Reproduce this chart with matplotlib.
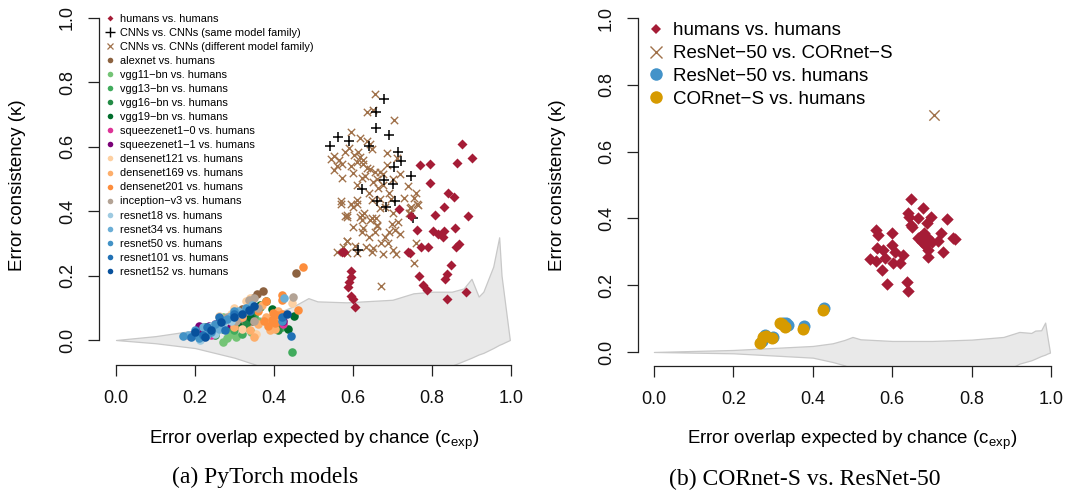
import matplotlib.pyplot as plt
from matplotlib.lines import Line2D
import numpy as np

plt.rcParams['font.family'] = ['Liberation Sans', 'DejaVu Sans']
plt.rcParams['mathtext.fontset'] = 'custom'
plt.rcParams['mathtext.rm'] = 'Liberation Sans'

ticks = [0.0, 0.2, 0.4, 0.6, 0.8, 1.0]

# ---- panel (a): PyTorch models ----
humans_a_x = [0.875, 0.902, 0.769, 0.795, 0.863, 0.795, 0.841, 0.856, 0.831, 0.807, 0.890,
              0.716, 0.748, 0.763, 0.803, 0.816, 0.827, 0.831, 0.857, 0.868, 0.861, 0.773,
              0.791, 0.744, 0.847, 0.768, 0.837, 0.832, 0.776, 0.787, 0.837, 0.885, 0.571,
              0.577, 0.595, 0.594, 0.590, 0.588, 0.596, 0.599, 0.605, 0.740]
humans_a_y = [0.609, 0.565, 0.544, 0.548, 0.549, 0.488, 0.456, 0.443, 0.412, 0.388, 0.386,
              0.407, 0.384, 0.343, 0.340, 0.328, 0.321, 0.340, 0.347, 0.297, 0.288, 0.290,
              0.290, 0.271, 0.234, 0.199, 0.205, 0.189, 0.171, 0.154, 0.128, 0.149, 0.274,
              0.272, 0.215, 0.197, 0.181, 0.164, 0.136, 0.128, 0.102, 0.272]

same_family = [(0.678, 0.748), (0.659, 0.707), (0.657, 0.657), (0.692, 0.637), (0.563, 0.630),
               (0.591, 0.619), (0.543, 0.604), (0.641, 0.601), (0.715, 0.584), (0.721, 0.557),
               (0.704, 0.538), (0.747, 0.510), (0.679, 0.496), (0.700, 0.484), (0.624, 0.468),
               (0.661, 0.433), (0.706, 0.431), (0.684, 0.412), (0.751, 0.378), (0.612, 0.278)]

diff_family = [(0.656, 0.764), (0.636, 0.709), (0.651, 0.714), (0.705, 0.683), (0.594, 0.646),
               (0.618, 0.627), (0.636, 0.618), (0.647, 0.592), (0.643, 0.609), (0.580, 0.585),
               (0.553, 0.570), (0.565, 0.559), (0.572, 0.547), (0.603, 0.575), (0.618, 0.569),
               (0.609, 0.552), (0.626, 0.546), (0.635, 0.533), (0.687, 0.580), (0.711, 0.564),
               (0.551, 0.527), (0.572, 0.504), (0.599, 0.518), (0.622, 0.502), (0.643, 0.530),
               (0.656, 0.523), (0.668, 0.523), (0.685, 0.545), (0.677, 0.516), (0.720, 0.514),
               (0.738, 0.478), (0.651, 0.490), (0.664, 0.471), (0.691, 0.456), (0.696, 0.437),
               (0.759, 0.456), (0.755, 0.440), (0.763, 0.421), (0.570, 0.432), (0.594, 0.422),
               (0.609, 0.435), (0.649, 0.434), (0.668, 0.437), (0.682, 0.412), (0.744, 0.409),
               (0.580, 0.386), (0.586, 0.381), (0.618, 0.381), (0.628, 0.393), (0.623, 0.373),
               (0.657, 0.378), (0.643, 0.373), (0.699, 0.360), (0.715, 0.368), (0.626, 0.347),
               (0.623, 0.336), (0.661, 0.353), (0.656, 0.334), (0.691, 0.336), (0.706, 0.342),
               (0.682, 0.319), (0.688, 0.300), (0.585, 0.309), (0.604, 0.292), (0.633, 0.288),
               (0.650, 0.285), (0.560, 0.274), (0.586, 0.271), (0.648, 0.274), (0.677, 0.267),
               (0.710, 0.267), (0.759, 0.300), (0.743, 0.393), (0.755, 0.238), (0.671, 0.169),
               (0.569, 0.422), (0.601, 0.414), (0.611, 0.422), (0.584, 0.388), (0.622, 0.388),
               (0.647, 0.378), (0.662, 0.357), (0.586, 0.306), (0.747, 0.414), (0.765, 0.419),
               (0.744, 0.393), (0.545, 0.563), (0.591, 0.596), (0.612, 0.585), (0.625, 0.560),
               (0.560, 0.540), (0.595, 0.540), (0.630, 0.510), (0.660, 0.500), (0.675, 0.480),
               (0.700, 0.500), (0.610, 0.480), (0.640, 0.455), (0.700, 0.395), (0.730, 0.440),
               (0.668, 0.410), (0.600, 0.350), (0.640, 0.320), (0.670, 0.300), (0.720, 0.330),
               (0.575, 0.290), (0.700, 0.280), (0.610, 0.270)]

alexnet = [(0.455, 0.209), (0.371, 0.153), (0.358, 0.142), (0.347, 0.130), (0.337, 0.119),
           (0.320, 0.095), (0.300, 0.075), (0.345, 0.060), (0.280, 0.060), (0.310, 0.050),
           (0.260, 0.045), (0.335, 0.085)]
vgg11 = [(0.272, -0.005), (0.280, 0.005), (0.305, 0.010), (0.343, 0.026), (0.272, 0.070),
         (0.250, 0.030), (0.230, 0.020), (0.330, 0.040), (0.360, 0.060), (0.290, 0.020),
         (0.215, 0.010), (0.310, 0.065)]
vgg13 = [(0.445, -0.036), (0.300, 0.030), (0.320, 0.020), (0.260, 0.040), (0.350, 0.075),
         (0.240, 0.025), (0.420, 0.040), (0.285, 0.045), (0.205, 0.015), (0.330, 0.060)]
vgg16 = [(0.365, 0.103), (0.300, 0.060), (0.270, 0.035), (0.330, 0.050), (0.250, 0.015),
         (0.410, 0.030), (0.345, 0.080), (0.225, 0.040), (0.380, 0.120)]
vgg19 = [(0.451, 0.075), (0.365, 0.110), (0.436, 0.034), (0.340, 0.070), (0.310, 0.045),
         (0.280, 0.050), (0.230, 0.030), (0.395, 0.095)]
squeeze10 = [(0.422, 0.049), (0.187, 0.012), (0.204, 0.021), (0.225, 0.030), (0.250, 0.050),
             (0.270, 0.040), (0.300, 0.055), (0.215, 0.005), (0.240, 0.015), (0.320, 0.070)]
squeeze11 = [(0.422, 0.060), (0.193, 0.016), (0.210, 0.028), (0.232, 0.035), (0.260, 0.055),
             (0.290, 0.050), (0.235, 0.045), (0.300, 0.070), (0.210, 0.045)]
dense121 = [(0.445, 0.114), (0.340, 0.130), (0.330, 0.120), (0.300, 0.100), (0.275, 0.060),
            (0.260, 0.075), (0.380, 0.060), (0.320, 0.035), (0.355, 0.020), (0.290, 0.080)]
dense169 = [(0.390, 0.031), (0.403, 0.033), (0.370, 0.110), (0.380, 0.070), (0.340, 0.030),
            (0.360, 0.050), (0.410, 0.090), (0.300, 0.040), (0.350, 0.010), (0.320, 0.070),
            (0.395, 0.040)]
dense201 = [(0.474, 0.228), (0.419, 0.140), (0.421, 0.124), (0.380, 0.122), (0.398, 0.083),
            (0.407, 0.078), (0.394, 0.062), (0.403, 0.054), (0.462, 0.093), (0.375, 0.060),
            (0.385, 0.045), (0.420, 0.080), (0.360, 0.090)]
inception = [(0.449, 0.135), (0.337, 0.125), (0.350, 0.130), (0.310, 0.080), (0.305, 0.060),
             (0.360, 0.100), (0.330, 0.090), (0.280, 0.070), (0.350, 0.060)]
resnet18 = [(0.213, 0.000), (0.230, 0.030), (0.250, 0.020), (0.290, 0.060), (0.310, 0.085),
            (0.330, 0.100), (0.200, 0.020), (0.270, 0.050), (0.240, 0.045)]
resnet34 = [(0.182, 0.015), (0.220, 0.040), (0.260, 0.035), (0.290, 0.075), (0.310, 0.090),
            (0.345, 0.110), (0.230, 0.015), (0.270, 0.060), (0.425, 0.129)]
resnet50 = [(0.169, 0.012), (0.200, 0.030), (0.240, 0.025), (0.280, 0.065), (0.300, 0.090),
            (0.420, 0.060), (0.250, 0.050), (0.330, 0.100), (0.210, 0.005)]
resnet101 = [(0.421, 0.070), (0.442, 0.013), (0.190, 0.010), (0.230, 0.040), (0.260, 0.070),
             (0.300, 0.080), (0.340, 0.090), (0.275, 0.030), (0.220, 0.015)]
resnet152 = [(0.434, 0.081), (0.337, 0.093), (0.200, 0.025), (0.240, 0.030), (0.265, 0.055),
             (0.300, 0.070), (0.320, 0.080), (0.350, 0.105), (0.225, 0.010)]

model_names = ['alexnet', 'vgg11\u2212bn', 'vgg13\u2212bn', 'vgg16\u2212bn', 'vgg19\u2212bn',
               'squeezenet1\u22120', 'squeezenet1\u22121', 'densenet121', 'densenet169',
               'densenet201', 'inception\u2212v3', 'resnet18', 'resnet34', 'resnet50',
               'resnet101', 'resnet152']
model_points = [alexnet, vgg11, vgg13, vgg16, vgg19, squeeze10, squeeze11, dense121, dense169,
                dense201, inception, resnet18, resnet34, resnet50, resnet101, resnet152]
model_colors = ['#8C6240', '#74C476', '#41AB5D', '#238B45', '#006D2C', '#DD3497', '#7A0177',
                '#FDD0A2', '#FDAE6B', '#FD8D3C', '#B3A395', '#9ECAE1', '#6BAED6', '#4292C6',
                '#2171B5', '#08519C']

# chance band (grey area)
band_a_x = [0.0, 0.1, 0.2, 0.3, 0.35, 0.4, 0.45, 0.487, 0.51, 0.584, 0.7, 0.753, 0.8, 0.85,
            0.88, 0.90, 0.918, 0.93, 0.955, 0.970, 0.976, 0.997]
band_a_up = [0.0, 0.012, 0.03, 0.05, 0.065, 0.08, 0.105, 0.13, 0.12, 0.117, 0.125, 0.145,
             0.15, 0.15, 0.16, 0.19, 0.135, 0.15, 0.228, 0.319, 0.2, 0.0]
band_a_lo = [0.0, -0.01, -0.025, -0.055, -0.075, -0.1, -0.12, -0.13, -0.14, -0.14, -0.13,
             -0.12, -0.1, -0.08, -0.065, -0.055, -0.045, -0.04, -0.025, -0.015, -0.012, 0.0]

# ---- panel (b): CORnet-S vs. ResNet-50 ----
humans_b = [(0.647, 0.458), (0.678, 0.430), (0.639, 0.415), (0.643, 0.405), (0.666, 0.400),
            (0.697, 0.403), (0.739, 0.398), (0.647, 0.380), (0.649, 0.375), (0.687, 0.385),
            (0.559, 0.365), (0.565, 0.350), (0.600, 0.357), (0.723, 0.357), (0.666, 0.340),
            (0.678, 0.350), (0.687, 0.343), (0.674, 0.330), (0.699, 0.330), (0.716, 0.333),
            (0.752, 0.340), (0.758, 0.337), (0.683, 0.320), (0.691, 0.305), (0.561, 0.310),
            (0.576, 0.305), (0.600, 0.320), (0.607, 0.300), (0.628, 0.290), (0.729, 0.298),
            (0.691, 0.285), (0.544, 0.277), (0.559, 0.272), (0.582, 0.280), (0.601, 0.265),
            (0.620, 0.265), (0.574, 0.246), (0.586, 0.203), (0.637, 0.210), (0.639, 0.184),
            (0.670, 0.345), (0.681, 0.355)]
resnet_cornet = [(0.706, 0.710)]
resnet_humans = [(0.271, 0.034), (0.280, 0.050), (0.300, 0.046), (0.332, 0.086), (0.337, 0.082),
                 (0.378, 0.078), (0.427, 0.131), (0.325, 0.088)]
cornet_humans = [(0.267, 0.026), (0.275, 0.046), (0.283, 0.048), (0.298, 0.041), (0.317, 0.086),
                 (0.330, 0.076), (0.376, 0.068), (0.425, 0.126), (0.322, 0.083)]

band_b_x = [0.0, 0.2, 0.4, 0.45, 0.48, 0.5, 0.52, 0.6, 0.7, 0.8, 0.88, 0.92, 0.95, 0.96,
            0.975, 0.985, 0.99, 0.997]
band_b_up = [0.0, 0.006, 0.018, 0.026, 0.036, 0.045, 0.038, 0.033, 0.033, 0.037, 0.045, 0.06,
             0.057, 0.064, 0.065, 0.088, 0.05, 0.0]
band_b_lo = [0.0, -0.004, -0.017, -0.03, -0.04, -0.05, -0.06, -0.07, -0.07, -0.07, -0.06,
             -0.035, -0.025, -0.02, -0.012, -0.008, -0.005, -0.002]

human_col = '#A51C36'
brown_col = '#A0714A'
band_fill = '#E9E9E9'
band_edge = '#C8C8C8'


def xs(pts):
    return [p[0] for p in pts]


def ys(pts):
    return [p[1] for p in pts]


def style(ax):
    for s in ['top', 'right']:
        ax.spines[s].set_visible(False)
    ax.spines['left'].set_bounds(0, 1)
    ax.spines['bottom'].set_bounds(0, 1)
    for s in ['left', 'bottom']:
        ax.spines[s].set_linewidth(0.9)
        ax.spines[s].set_color('#222222')
    ax.set_xticks(ticks)
    ax.set_yticks(ticks)
    ax.set_xticklabels(['%.1f' % t for t in ticks])
    ax.set_yticklabels(['%.1f' % t for t in ticks])
    ax.tick_params(direction='out', length=8, width=0.9, labelsize=13,
                   color='#222222', labelcolor='#111111')
    ax.tick_params(axis='x', pad=10)
    ax.tick_params(axis='y', pad=8.6, labelrotation=90)
    for lab in ax.get_yticklabels():
        lab.set_va('center')
    ax.patch.set_visible(False)


fig = plt.figure(figsize=(10.68, 4.91), dpi=100)

# panel (a)
ax1 = fig.add_axes([99 / 1068, 1 - 365 / 491, 429 / 1068, 357 / 491])
ax1.set_xlim(-0.043, 1.043)
ax1.set_ylim(-0.0776, 1.031)
ax1.fill_between(band_a_x, band_a_lo, band_a_up, facecolor=band_fill, edgecolor=band_edge,
                 linewidth=0.9, zorder=1)
ax1.scatter(xs(diff_family), ys(diff_family), marker='x', s=28, linewidths=1.0,
            color=brown_col, zorder=2)
ax1.scatter(xs(same_family), ys(same_family), marker='+', s=60, linewidths=1.1,
            color='black', zorder=3)
ax1.scatter(humans_a_x, humans_a_y, marker='D', s=26, color=human_col, linewidths=0, zorder=4)
for pts, col in zip(model_points, model_colors):
    ax1.scatter(xs(pts), ys(pts), marker='o', s=38, color=col, linewidths=0, zorder=5)
style(ax1)

handles_a = [Line2D([], [], ls='', marker='D', ms=3, color=human_col, mew=0),
             Line2D([], [], ls='', marker='+', ms=7.5, color='black', mew=1.0),
             Line2D([], [], ls='', marker='x', ms=5, color=brown_col, mew=0.9)]
labels_a = ['humans vs. humans', 'CNNs vs. CNNs (same model family)',
            'CNNs vs. CNNs (different model family)']
for name, col in zip(model_names, model_colors):
    handles_a.append(Line2D([], [], ls='', marker='o', ms=4, color=col, mew=0))
    labels_a.append(name + ' vs. humans')
ax1.legend(handles_a, labels_a, loc='upper left', bbox_to_anchor=(0.013, 0.984),
           borderaxespad=0, borderpad=0, frameon=False, fontsize=7.9, handlelength=1.0,
           handletextpad=0.45, labelspacing=0.37)

# panel (b)
ax2 = fig.add_axes([638 / 1068, 1 - 366 / 491, 429 / 1068, 361 / 491])
ax2.set_xlim(-0.040, 1.040)
ax2.set_ylim(-0.042, 1.039)
ax2.fill_between(band_b_x, band_b_lo, band_b_up, facecolor=band_fill, edgecolor=band_edge,
                 linewidth=0.9, zorder=1)
ax2.scatter(xs(humans_b), ys(humans_b), marker='D', s=40, color=human_col, linewidths=0,
            zorder=4)
ax2.scatter(xs(resnet_cornet), ys(resnet_cornet), marker='x', s=55, linewidths=1.0,
            color=brown_col, zorder=3)
ax2.scatter(xs(resnet_humans), ys(resnet_humans), marker='o', s=75, color='#4393C9',
            linewidths=0, zorder=5)
ax2.scatter(xs(cornet_humans), ys(cornet_humans), marker='o', s=75, color='#D69A00',
            linewidths=0, zorder=6)
style(ax2)

handles_b = [Line2D([], [], ls='', marker='D', ms=5.5, color=human_col, mew=0),
             Line2D([], [], ls='', marker='x', ms=8, color=brown_col, mew=1.0),
             Line2D([], [], ls='', marker='o', ms=9, color='#4393C9', mew=0),
             Line2D([], [], ls='', marker='o', ms=9, color='#D69A00', mew=0)]
labels_b = ['humans vs. humans', 'ResNet\u221250 vs. CORnet\u2212S', 'ResNet\u221250 vs. humans',
            'CORnet\u2212S vs. humans']
ax2.legend(handles_b, labels_b, loc='upper left', bbox_to_anchor=(0.020, 0.952),
           borderaxespad=0, borderpad=0, frameon=False, fontsize=13.5, handlelength=1.0,
           handletextpad=0.4, labelspacing=0.3)

# axis titles and captions
xlab = 'Error overlap expected by chance (c$_{\\mathregular{exp}}$)'
fig.text(314 / 1068, 1 - 440 / 491, xlab, ha='center', va='center', fontsize=13.5)
fig.text(852 / 1068, 1 - 440 / 491, xlab, ha='center', va='center', fontsize=13.5)
fig.text(18 / 1068, 1 - 185 / 491, 'Error consistency (\u03ba)', rotation=90, ha='center',
         va='center', fontsize=13.5)
fig.text(557 / 1068, 1 - 185 / 491, 'Error consistency (\u03ba)', rotation=90, ha='center',
         va='center', fontsize=13.5)
fig.text(265 / 1068, 1 - 477 / 491, '(a) PyTorch models', ha='center', va='center',
         fontsize=17, family='Liberation Serif')
fig.text(805 / 1068, 1 - 479 / 491, '(b) CORnet-S vs. ResNet-50', ha='center', va='center',
         fontsize=17, family='Liberation Serif')

fig.savefig('out.png', dpi=100)
